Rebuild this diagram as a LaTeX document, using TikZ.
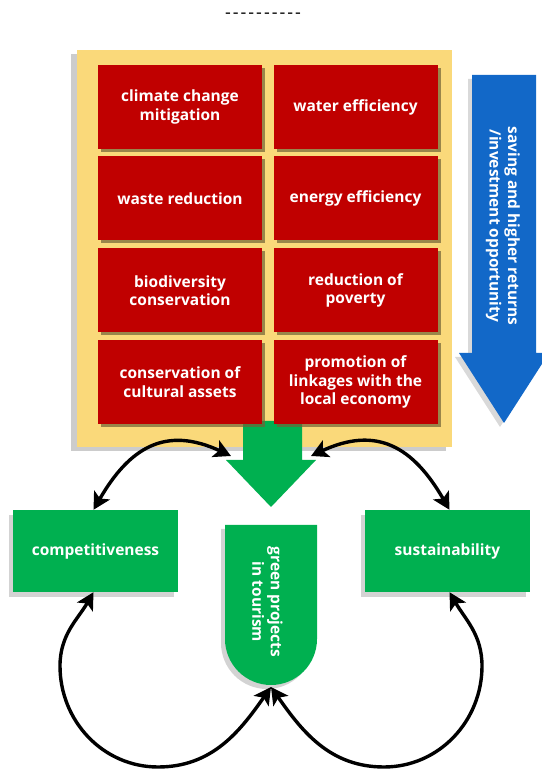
\documentclass[tikz,border=0pt]{standalone}
\usepackage{fontspec}
\setmainfont{Open Sans}
\usetikzlibrary{arrows.meta}
\usetikzlibrary{calc,shadows}

\definecolor{panelyellow}{RGB}{250,217,122}
\definecolor{boxred}{RGB}{192,0,0}
\definecolor{boxgreen}{RGB}{0,176,80}
\definecolor{arrowblue}{RGB}{18,104,200}

\tikzset{
 txt/.style={text=white, font=\bfseries\fontsize{15.5}{18.5}\selectfont, align=center},
 redbox/.style={txt, fill=boxred, minimum width=164pt, minimum height=84pt, inner sep=0pt,
   drop shadow={shadow xshift=3pt, shadow yshift=-3pt, fill=black!55!panelyellow, opacity=.7}},
 greenbox/.style={txt, fill=boxgreen, minimum width=165pt, minimum height=82pt, inner sep=0pt,
   drop shadow={shadow xshift=-4pt, shadow yshift=-5pt, opacity=.35}},
 link/.style={black, line width=3.4pt, <->, >={Stealth[length=17pt,width=18pt,inset=4pt]}},
}

\begin{document}
\begin{tikzpicture}[x=1pt,y=1pt]
\useasboundingbox (0,0) rectangle (541,771);
\node[font=\fontsize{18}{18}\selectfont] (dashes) at (263,755)
  {-\kern2pt-\kern2pt-\kern2pt-\kern2pt-\kern2pt-\kern2pt-\kern2pt-\kern2pt-\kern2pt-};
\node[fill=panelyellow, minimum width=375pt, minimum height=397pt, inner sep=0pt,
  drop shadow={shadow xshift=-6pt, shadow yshift=-4pt, opacity=.4}] (panel) at (264.5,522.5) {};
% green arrow out of the panel
\coordinate (inL) at (231,315);
\coordinate (inR) at (311,315);
\fill[boxgreen] (243,350) -- (302,350) -- (302,311) -- (316,311) -- (271,264) -- (226,311) -- (243,311) -- cycle;
\foreach \name/\x/\y/\txt in {
  climate/180/664/{climate change\\mitigation}, water/355.5/664/{water efficiency},
  waste/180/572.5/{waste reduction}, energy/355.5/572.5/{energy efficiency},
  biodiv/180/480.5/{biodiversity\\conservation}, poverty/355.5/480.5/{reduction of\\poverty},
  cultural/180/389/{conservation of\\cultural assets}, linkage/355.5/389/{promotion of\\linkages with the\\local economy}}
 \node[redbox] (\name) at (\x,\y) {\txt};
% blue arrow
\fill[arrowblue, drop shadow={shadow xshift=-4pt, shadow yshift=-4pt, opacity=.3}]
  (472,696) -- (536,696) -- (536,418) -- (549,418) -- (504,348) -- (459,418) -- (472,418) -- cycle;
\node[txt, rotate=-90] (saving) at (503,545) {saving and higher returns\\/investment opportunity};
% boxes below
\node[greenbox] (comp) at (95.5,220) {competitiveness};
\node[greenbox] (sust) at (447.5,220) {sustainability};
\fill[boxgreen, drop shadow={shadow xshift=-4pt, shadow yshift=-4pt, opacity=.35}]
  (225,246) -- (317,246) -- (317,132) arc[start angle=0, end angle=-180, radius=46] -- cycle;
\coordinate (gpbot) at (271,84);
\node[txt, rotate=-90] (projects) at (267.5,169) {green projects\\in tourism};
\coordinate (loopL) at (60,105);
\coordinate (botL) at (158,4);
\coordinate (loopR) at (482,105);
\coordinate (botR) at (384,4);
\draw[link] ([xshift=-2pt]comp.north) to[out=60, in=155, looseness=1.25] (inL);
\draw[link] (inR) to[out=25, in=120, looseness=1.25] ([xshift=2pt]sust.north);
\draw[link] ([xshift=-2pt]comp.south) to[out=240, in=90] (loopL) to[out=270, in=180] (botL)
  to[out=0, in=235] (gpbot);
\draw[link] ([xshift=2pt]sust.south) to[out=300, in=90] (loopR) to[out=270, in=0] (botR)
  to[out=180, in=305] (gpbot);
\end{tikzpicture}
\end{document}
